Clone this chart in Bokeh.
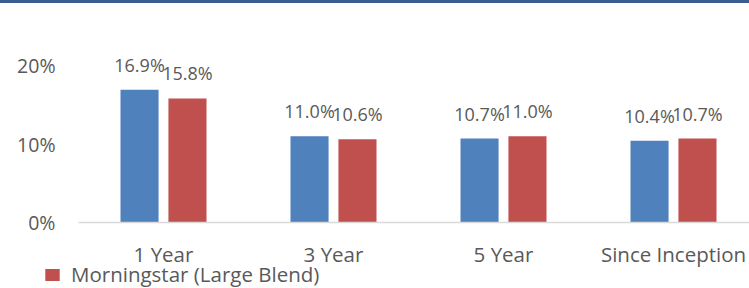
import numpy as np
from bokeh.plotting import figure
from bokeh.core.properties import value
from bokeh.models import (Range1d, FixedTicker, NumeralTickFormatter, LabelSet,
                          ColumnDataSource, Legend, LegendItem, GlobalInlineStyleSheet)
from bokeh.embed import file_html
from bokeh.resources import INLINE

categories = ["1 Year", "3 Year", "5 Year", "Since Inception"]
fund = [0.169, 0.110, 0.107, 0.104]
morningstar = [0.158, 0.106, 0.110, 0.107]
fund_labels = ["16.9%", "11.0%", "10.7%", "10.4%"]
ms_labels = ["15.8%", "10.6%", "11.0%", "10.7%"]
y_ticks = [0.0, 0.1, 0.2]

BLUE = "#4F81BD"
RED = "#C0504D"
TXT = "#595959"
FONT = "Open Sans"

idx = np.arange(len(categories)) + 0.5
off = 0.141
bw = 0.224

src_f = ColumnDataSource(dict(x=idx - off, top=fund, lab=fund_labels))
src_m = ColumnDataSource(dict(x=idx + off, top=morningstar, lab=ms_labels))

css = GlobalInlineStyleSheet(css="body{margin:0;border-top:3px solid #395E8E;}")

W, H = 749, 285
CAT_PX = 170.0
LEFT_PX = 78.0
ZERO_PX = 219.0
PX_PER_UNIT = 785.0

p = figure(width=W, height=H, output_backend="svg", toolbar_location=None,
           x_range=Range1d(-LEFT_PX / CAT_PX, (W - LEFT_PX) / CAT_PX),
           y_range=Range1d(-(H - ZERO_PX) / PX_PER_UNIT, ZERO_PX / PX_PER_UNIT),
           min_border=0, outline_line_color=None, stylesheets=[css])
p.grid.visible = False

rf = p.vbar(x="x", top="top", width=bw, source=src_f, fill_color=BLUE, line_color=None)
rm = p.vbar(x="x", top="top", width=bw, source=src_m, fill_color=RED, line_color=None)

for s in (src_f, src_m):
    p.add_layout(LabelSet(x="x", y="top", text="lab", source=s, y_offset=25,
                          text_align="center", text_baseline="middle",
                          text_font=value(FONT), text_font_size="18px", text_color=TXT))

xa = p.xaxis[0]
xa.fixed_location = 0
xa.bounds = (0, (W - LEFT_PX) / CAT_PX)
xa.ticker = FixedTicker(ticks=list(idx))
xa.major_label_overrides = {float(v): c for v, c in zip(idx, categories)}
xa.axis_line_color = "#D9D9D9"
xa.axis_line_width = 1.5
xa.major_tick_line_color = None
xa.minor_tick_line_color = None
xa.major_tick_out = 0
xa.major_label_standoff = 17
xa.major_label_text_font = FONT
xa.major_label_text_font_size = "20.5px"
xa.major_label_text_color = TXT

ya = p.yaxis[0]
ya.fixed_location = 0
ya.ticker = FixedTicker(ticks=y_ticks)
ya.formatter = NumeralTickFormatter(format="0%")
ya.axis_line_color = None
ya.major_tick_line_color = None
ya.minor_tick_line_color = None
ya.major_tick_out = 0
ya.major_label_standoff = 23
ya.major_label_text_font = FONT
ya.major_label_text_font_size = "19.5px"
ya.major_label_text_color = TXT

leg = Legend(items=[LegendItem(label="Morningstar (Large Blend)", renderers=[rm])],
             location=(43, 0), padding=0, margin=0, border_line_color=None,
             background_fill_alpha=0, glyph_width=18, glyph_height=15,
             label_standoff=10, label_text_font=FONT, label_text_font_size="20.5px",
             label_text_color=TXT)
p.add_layout(leg, "center")

open("out.html", "w").write(file_html(p, INLINE))
